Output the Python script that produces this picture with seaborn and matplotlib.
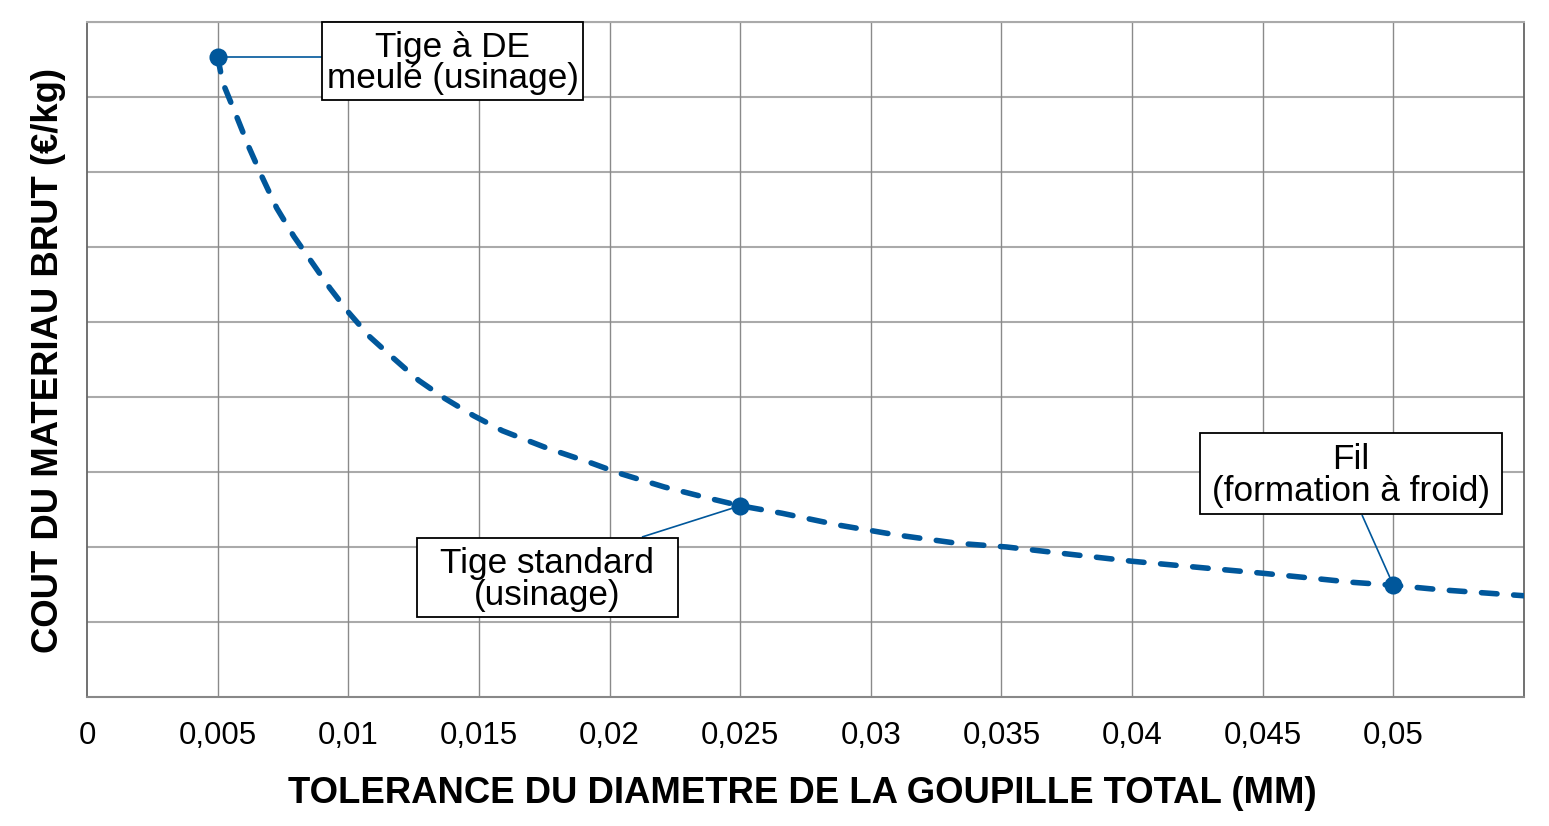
import matplotlib
matplotlib.use("Agg")
import matplotlib.pyplot as plt
from matplotlib.patches import Rectangle
import seaborn as sns
import pandas as pd

# Curve (tolerance in mm, cost)
curve_x = [0.005, 0.00516, 0.00528, 0.00575, 0.00621, 0.00672, 0.00726, 0.00792, 0.0086,
           0.0093, 0.01003, 0.01083, 0.01172, 0.0127, 0.0137, 0.0148, 0.0159, 0.0176,
           0.0193, 0.0204, 0.0221, 0.0238, 0.025, 0.0266, 0.0288, 0.031, 0.0333, 0.0352,
           0.0372, 0.040, 0.0428, 0.0450, 0.0470, 0.0484, 0.050, 0.0518, 0.055]
curve_y = [8.54, 8.25, 8.12, 7.72, 7.32, 6.92, 6.52, 6.14, 5.80,
           5.45, 5.12, 4.80, 4.52, 4.22, 3.98, 3.75, 3.55, 3.32,
           3.12, 2.98, 2.80, 2.65, 2.55, 2.45, 2.29, 2.16, 2.05, 2.00,
           1.92, 1.81, 1.72, 1.65, 1.58, 1.53, 1.49, 1.43, 1.35]

# Highlighted processes
point_x = [0.005, 0.025, 0.050]
point_y = [8.54, 2.55, 1.49]
point_labels = ["Tige à DE\nmeulé (usinage)", "Tige standard\n(usinage)", "Fil\n(formation à froid)"]

x_ticks = [0, 0.005, 0.01, 0.015, 0.02, 0.025, 0.03, 0.035, 0.04, 0.045, 0.05]
x_tick_labels = ["0", "0,005", "0,01", "0,015", "0,02", "0,025", "0,03", "0,035", "0,04", "0,045", "0,05"]

xlabel = "TOLERANCE DU DIAMETRE DE LA GOUPILLE TOTAL (MM)"
ylabel = "COUT DU MATERIAU BRUT (€/kg)"

# Layout of the label boxes (data coords): x0, x1, y0, y1 and leader attach point
box_rects = [(0.008995, 0.018984, 7.96, 9.0),
             (0.012630, 0.022620, 1.0667, 2.12),
             (0.042599, 0.054158, 2.44, 3.52)]
leader_ends = [(0.008995, 8.54), (0.02124, 2.133), (0.0488, 2.427)]

sns.set_theme(style="white")
plt.rcParams['font.family'] = ['Liberation Sans', 'DejaVu Sans']
plt.rcParams['text.color'] = 'black'

blue = "#00579b"

fig = plt.figure(figsize=(15.49, 8.26), dpi=100)
ax = fig.add_axes([87/1549, 1-697/826, (1524-87)/1549, (697-22)/826])

df_curve = pd.DataFrame({"x": curve_x, "y": curve_y})
df_pts = pd.DataFrame({"x": point_x, "y": point_y})

sns.lineplot(data=df_curve, x="x", y="y", ax=ax, color=blue, linewidth=4.0,
             zorder=3)
ln = ax.lines[-1]
ln.set_dashes((2.8, 3.0))
ln.set_dash_capstyle("round")
sns.scatterplot(data=df_pts, x="x", y="y", ax=ax, color=blue, s=170,
                edgecolor=blue, linewidth=0, zorder=4)

for (px, py), (ex, ey), (x0, x1, y0, y1), lab in zip(zip(point_x, point_y), leader_ends,
                                                       box_rects, point_labels):
    ax.plot([px, ex], [py, ey], color=blue, lw=1.2, zorder=3.5, solid_capstyle="butt")
    ax.add_patch(Rectangle((x0, y0), x1 - x0, y1 - y0, facecolor="white",
                           edgecolor="black", lw=1.3, zorder=5, clip_on=False))
    ax.text((x0 + x1) / 2, (y0 + y1) / 2 - 0.025, lab, ha="center", va="center",
            fontsize=25.3, linespacing=0.94, color="black", zorder=6)

ax.set_xlim(0, 0.055)
ax.set_ylim(0, 9)
ax.set_xticks(x_ticks)
ax.set_xticklabels(x_tick_labels, fontsize=22.5, color="black")
ax.set_yticks(range(0, 10))
ax.set_yticklabels([])
ax.tick_params(axis="x", length=0, pad=17)
ax.tick_params(axis="y", length=0)

ax.grid(False)
for yv in range(1, 10):
    ax.axhline(yv, color="#aaaaaa", lw=1.5, zorder=1)
for xv in x_ticks[1:]:
    ax.axvline(xv, color="#8a8a8a", lw=1.0, zorder=1)

for side, col, lw in [("left", "#666666", 1.3), ("bottom", "#888888", 1.5),
                      ("right", "#666666", 1.3), ("top", "#aaaaaa", 1.5)]:
    ax.spines[side].set_visible(True)
    ax.spines[side].set_color(col)
    ax.spines[side].set_linewidth(lw)

ax.set_xlabel(xlabel, fontsize=26.3, fontweight="bold", color="black", va="center")
ax.set_ylabel(ylabel, fontsize=26.3, fontweight="bold", color="black", va="center")
ax.xaxis.set_label_coords(0.4976, -0.1425)
ax.yaxis.set_label_coords(-0.0265, 0.499)

fig.savefig("out.png", dpi=100, facecolor="white")
